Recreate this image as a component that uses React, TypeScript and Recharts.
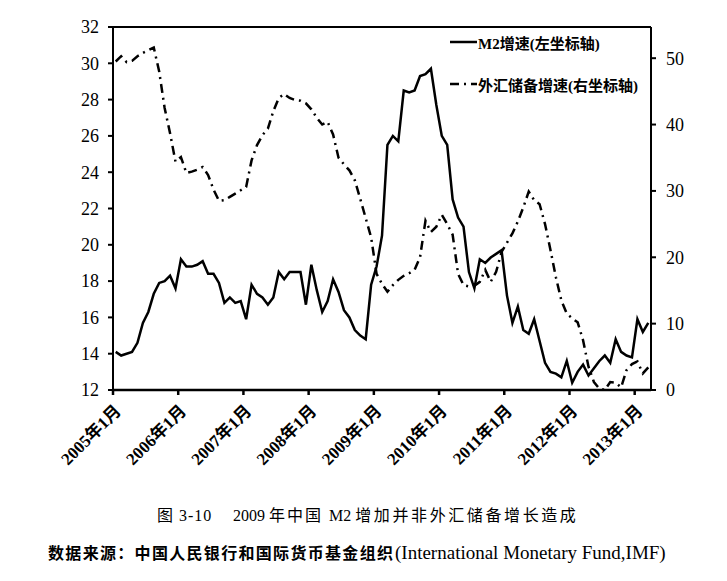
import React from "react";
import {
  LineChart,
  Line,
  XAxis,
  YAxis,
  Legend,
  ReferenceLine,
} from "recharts";

// M2 同比增速 (%), 2005年1月 - 2013年3月, 左坐标轴
const m2Growth = [
  14.1, 13.9, 14.0, 14.1, 14.6, 15.7, 16.3, 17.3, 17.9, 18.0, 18.3, 17.6,
  19.2, 18.8, 18.8, 18.9, 19.1, 18.4, 18.4, 17.9, 16.8, 17.1, 16.8, 16.9,
  15.9, 17.8, 17.3, 17.1, 16.7, 17.1, 18.5, 18.1, 18.5, 18.5, 18.5, 16.7,
  18.9, 17.5, 16.3, 16.9, 18.1, 17.4, 16.4, 16.0, 15.3, 15.0, 14.8, 17.8,
  18.8, 20.5, 25.5, 26.0, 25.7, 28.5, 28.4, 28.5, 29.3, 29.4, 29.7, 27.7,
  26.0, 25.5, 22.5, 21.5, 21.0, 18.5, 17.6, 19.2, 19.0, 19.3, 19.5, 19.7,
  17.2, 15.7, 16.6, 15.3, 15.1, 15.9, 14.7, 13.5, 13.0, 12.9, 12.7, 13.6,
  12.4, 13.0, 13.4, 12.8, 13.2, 13.6, 13.9, 13.5, 14.8, 14.1, 13.9, 13.8,
  15.9, 15.2, 15.7,
];

// 外汇储备同比增速 (%), 右坐标轴
const fxGrowth = [
  49.5, 50.3, 49.4, 49.6, 50.3, 50.8, 51.2, 51.6, 48.0, 42.5, 38.7, 34.4,
  35.1, 32.7, 32.9, 33.2, 33.6, 32.4, 30.2, 28.5, 28.6, 29.1, 29.6, 30.1,
  30.6, 34.6, 36.9, 38.4, 39.4, 42.0, 44.0, 44.6, 44.0, 43.7, 43.6, 43.2,
  42.3, 41.0, 40.0, 40.4, 38.5, 35.0, 34.0, 33.1, 31.6, 28.8, 25.9, 23.0,
  17.5, 16.0, 14.8, 15.8, 16.6, 17.2, 17.6, 18.1, 20.0, 25.5, 23.8, 24.6,
  26.4, 25.0, 23.4, 17.5, 15.8, 15.6, 15.7, 16.3, 18.1, 16.3, 17.8, 20.8,
  22.2, 23.6, 25.4, 27.5, 29.9, 28.6, 28.0, 25.0, 21.1, 17.0, 13.5, 11.5,
  10.8, 10.2, 7.5, 3.5, 1.2, 0.2, 0.0, 1.2, 1.1, 0.4, 3.0, 3.9,
  4.3, 2.5, 3.4,
];

const xTickLabels = [
  "2005年1月", "2006年1月", "2007年1月", "2008年1月", "2009年1月",
  "2010年1月", "2011年1月", "2012年1月", "2013年1月",
];
const leftTicks = [12, 14, 16, 18, 20, 22, 24, 26, 28, 30, 32];
const rightTicks = [0, 10, 20, 30, 40, 50];

const SERIF = '"Liberation Serif", "Noto Sans CJK SC", serif';
const CJK = '"Liberation Serif", "Noto Sans CJK SC", sans-serif';

const data = m2Growth.map((m2, i) => ({ m: i, m2, fx: fxGrowth[i] }));
// January ticks sit on the category boundary, half a month left of the point
const xTicks = xTickLabels.map((_, i) => i * 12 - 0.5);

function MonthTick(props: any) {
  const { x, payload } = props;
  const idx = Math.round((payload.value + 0.5) / 12);
  const ax = x + 9;
  const ay = 412;
  return (
    <text
      x={ax}
      y={ay}
      transform={`rotate(-45 ${ax} ${ay})`}
      textAnchor="end"
      fontFamily={CJK}
      fontSize={17}
      fontWeight={700}
      fill="#000"
    >
      {xTickLabels[idx]}
    </text>
  );
}

function renderLegend() {
  return (
    <div style={{ fontFamily: CJK, fontSize: 15, fontWeight: 700, color: "#000" }}>
      <div style={{ display: "flex", alignItems: "center", height: 20 }}>
        <svg width={27} height={6} style={{ marginRight: 1 }}>
          <line x1={0} y1={3} x2={27} y2={3} stroke="#000" strokeWidth={2.5} />
        </svg>
        <span>M2增速(左坐标轴)</span>
      </div>
      <div style={{ display: "flex", alignItems: "center", height: 20, marginTop: 22 }}>
        <svg width={27} height={6} style={{ marginRight: 1 }}>
          <line x1={0} y1={3} x2={27} y2={3} stroke="#000" strokeWidth={2.5} strokeDasharray="9 5 2 5" />
        </svg>
        <span>外汇储备增速(右坐标轴)</span>
      </div>
    </div>
  );
}

export default function App() {
  return (
    <div
      style={{
        position: "absolute",
        left: 0,
        top: 0,
        width: 727,
        height: 581,
        background: "#fff",
        overflow: "hidden",
      }}
    >
      <LineChart
        width={727}
        height={480}
        data={data}
        margin={{ top: 27, right: 26, left: 63, bottom: 10 }}
      >
        <XAxis
          dataKey="m"
          type="number"
          domain={[-0.5, 98.5]}
          ticks={xTicks}
          interval={0}
          height={80}
          stroke="#000"
          strokeWidth={2.5}
          tickSize={5}
          tick={<MonthTick />}
        />
        <YAxis
          yAxisId="left"
          orientation="left"
          domain={[12, 32]}
          ticks={leftTicks}
          interval={0}
          width={50}
          stroke="#000"
          strokeWidth={2}
          tickSize={5}
          tickMargin={9}
          tick={{ fill: "#000", fontSize: 18, fontFamily: SERIF }}
        />
        <YAxis
          yAxisId="right"
          orientation="right"
          domain={[0, 54.7]}
          ticks={rightTicks}
          interval={0}
          allowDataOverflow
          width={50}
          stroke="#000"
          strokeWidth={2}
          tickSize={5}
          tickMargin={10}
          tick={{ fill: "#000", fontSize: 18, fontFamily: SERIF }}
        />
        <ReferenceLine yAxisId="left" y={32} stroke="#000" strokeWidth={2} />
        <Legend
          layout="vertical"
          align="center"
          verticalAlign="middle"
          content={renderLegend}
          wrapperStyle={{ position: "absolute", left: 450, top: 32, width: 210, height: 70 }}
        />
        <Line
          yAxisId="left"
          dataKey="m2"
          type="linear"
          stroke="#000"
          strokeWidth={2.5}
          dot={false}
          isAnimationActive={false}
        />
        <Line
          yAxisId="right"
          dataKey="fx"
          type="linear"
          stroke="#000"
          strokeWidth={2.5}
          strokeDasharray="9 5 2 5"
          dot={false}
          isAnimationActive={false}
        />
      </LineChart>
      <svg
        width={727}
        height={101}
        style={{ position: "absolute", left: 0, top: 480 }}
      >
        <text x={157} y={41} fontFamily={CJK} fontSize={16} fill="#000" letterSpacing={1}>
          图 3-10
        </text>
        <text x={233} y={41} fontFamily={CJK} fontSize={16} fill="#000">
          <tspan>2009 </tspan>
          <tspan letterSpacing={2}>年中国 </tspan>
          <tspan>M2 </tspan>
          <tspan letterSpacing={2.6}>增加并非外汇储备增长造成</tspan>
        </text>
        <text x={48} y={79} fontFamily={CJK} fontSize={16} fontWeight={700} fill="#000" textLength={345} lengthAdjust="spacing">
          数据来源：中国人民银行和国际货币基金组织
        </text>
        <text x={395} y={79} fontFamily={SERIF} fontSize={19} fill="#000">
          (International Monetary Fund,IMF)
        </text>
      </svg>
    </div>
  );
}
